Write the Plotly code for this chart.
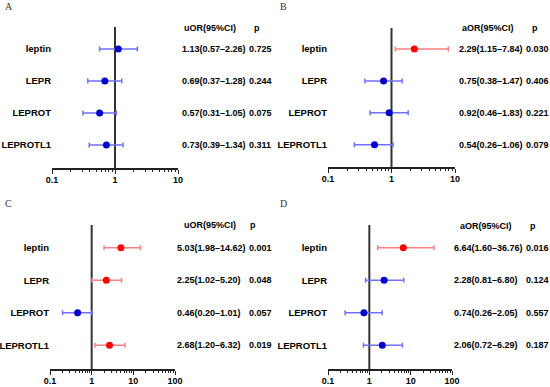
import plotly.graph_objects as go

W, H = 550, 387

genes = ["leptin", "LEPR", "LEPROT", "LEPROTL1"]

A_or = [1.13, 0.69, 0.57, 0.73]
A_lo = [0.57, 0.37, 0.31, 0.39]
A_hi = [2.26, 1.28, 1.05, 1.34]
A_p = ["0.725", "0.244", "0.075", "0.311"]

B_or = [2.29, 0.75, 0.92, 0.54]
B_lo = [1.15, 0.38, 0.46, 0.26]
B_hi = [7.84, 1.47, 1.83, 1.06]
B_p = ["0.030", "0.406", "0.221", "0.079"]

C_or = [5.03, 2.25, 0.46, 2.68]
C_lo = [1.98, 1.02, 0.20, 1.20]
C_hi = [14.62, 5.20, 1.01, 6.32]
C_p = ["0.001", "0.048", "0.057", "0.019"]

D_or = [6.64, 2.28, 0.74, 2.06]
D_lo = [1.60, 0.81, 0.26, 0.72]
D_hi = [36.76, 6.80, 2.05, 6.29]
D_p = ["0.016", "0.124", "0.557", "0.187"]

panels = [
    dict(letter="A", head="uOR(95%CI)", orv=A_or, lo=A_lo, hi=A_hi, p=A_p, dec=1,
         dom_x=(52, 178), dom_y=(27, 168), yr=[-0.72, 3.69],
         val_x=180, p_x=247, head_x=210, ph_x=257, head_y=28, let=(3, 7)),
    dict(letter="B", head="aOR(95%CI)", orv=B_or, lo=B_lo, hi=B_hi, p=B_p, dec=1,
         dom_x=(328, 455), dom_y=(28, 167), yr=[-0.70, 3.66],
         val_x=457, p_x=524, head_x=488, ph_x=535, head_y=28, let=(278, 7)),
    dict(letter="C", head="uOR(95%CI)", orv=C_or, lo=C_lo, hi=C_hi, p=C_p, dec=2,
         dom_x=(50, 175), dom_y=(225, 369), yr=[-0.73, 3.70],
         val_x=175, p_x=247, head_x=210, ph_x=253, head_y=225, let=(3, 203)),
    dict(letter="D", head="aOR(95%CI)", orv=D_or, lo=D_lo, hi=D_hi, p=D_p, dec=2,
         dom_x=(328, 452), dom_y=(225, 369), yr=[-0.73, 3.70],
         val_x=452, p_x=524, head_x=486, ph_x=533, head_y=226, let=(278, 203)),
]

BLUE, BLUE_L = "#0000cc", "#7070ff"
RED, RED_L = "#ff0000", "#ff8080"
FONT = "Arial, Liberation Sans, sans-serif"

fig = go.Figure()
annotations = []
layout = {}

rows = [3, 2, 1, 0]

for i, pn in enumerate(panels):
    k = "" if i == 0 else str(i + 1)
    xa, ya = "x" + k, "y" + k
    # reference line at OR = 1
    fig.add_trace(go.Scatter(x=[1, 1], y=pn["yr"], xaxis=xa, yaxis=ya, mode="lines",
                             line=dict(color="#333333", width=2), showlegend=False,
                             hoverinfo="skip", cliponaxis=False))
    for g, o, l, h, p, r in zip(genes, pn["orv"], pn["lo"], pn["hi"], pn["p"], rows):
        sig = float(p) < 0.05
        fig.add_trace(go.Scatter(
            x=[o], y=[r], xaxis=xa, yaxis=ya, mode="markers",
            marker=dict(color=RED if sig else BLUE, size=7),
            error_x=dict(type="data", symmetric=False, array=[h - o], arrayminus=[o - l],
                         color=RED_L if sig else BLUE_L, thickness=1.5, width=2.5),
            showlegend=False, hoverinfo="skip"))
        annotations.append(dict(
            x=pn["val_x"] / W, xref="paper", xanchor="left", y=r, yref=ya, yanchor="middle",
            text=f"{o:.2f}({l:.2f}–{h:.2f})", showarrow=False,
            font=dict(family=FONT, size=9, color="black", weight="bold")))
        annotations.append(dict(
            x=pn["p_x"] / W, xref="paper", xanchor="left", y=r, yref=ya, yanchor="middle",
            text=p, showarrow=False,
            font=dict(family=FONT, size=9, color="black", weight="bold")))
    annotations.append(dict(x=pn["head_x"] / W, xref="paper", xanchor="center",
                            y=1 - pn["head_y"] / H, yref="paper", yanchor="middle",
                            text=pn["head"], showarrow=False,
                            font=dict(family=FONT, size=9, color="black", weight="bold")))
    annotations.append(dict(x=pn["ph_x"] / W, xref="paper", xanchor="center",
                            y=1 - pn["head_y"] / H, yref="paper", yanchor="middle",
                            text="p", showarrow=False,
                            font=dict(family=FONT, size=9, color="black", weight="bold")))
    annotations.append(dict(x=pn["let"][0] / W, xref="paper", xanchor="left",
                            y=1 - pn["let"][1] / H, yref="paper", yanchor="middle",
                            text=pn["letter"], showarrow=False,
                            font=dict(family="Liberation Serif, DejaVu Serif, serif", size=10, color="#333")))
    tv = [10.0 ** e for e in range(-1, pn["dec"] + 1)]
    minor_tv = [m * 10.0 ** e for e in range(-1, pn["dec"]) for m in range(2, 10)]
    layout["xaxis" + k] = dict(
        type="log", range=[-1, pn["dec"]],
        domain=[pn["dom_x"][0] / W, pn["dom_x"][1] / W], anchor=ya, automargin=False,
        tickmode="array", tickvals=tv, ticktext=[f"{v:g}" for v in tv],
        showline=True, linecolor="#222", linewidth=1.5, ticks="outside", ticklen=4,
        tickwidth=1.2, tickcolor="#222", ticklabelstandoff=-2,
        minor=dict(tickmode="array", tickvals=minor_tv, ticks="outside", ticklen=2,
                   tickwidth=1, tickcolor="#222", showgrid=False),
        showgrid=False, zeroline=False,
        tickfont=dict(family=FONT, size=9, color="black", weight="bold"), fixedrange=True)
    layout["yaxis" + k] = dict(
        range=pn["yr"], domain=[1 - pn["dom_y"][1] / H, 1 - pn["dom_y"][0] / H], anchor=xa,
        automargin=False,
        tickmode="array", tickvals=rows, ticktext=genes,
        showline=False, ticks="", showgrid=False, zeroline=False,
        tickfont=dict(family=FONT, size=9.5, color="black", weight="bold"), fixedrange=True)

fig.update_layout(
    width=W, height=H, margin=dict(l=0, r=0, t=0, b=0),
    paper_bgcolor="white", plot_bgcolor="white",
    annotations=annotations, **layout)

fig.write_html("out.html", config={"displayModeBar": False},
               post_script="document.body.style.margin='0';document.body.style.overflow='hidden';")
